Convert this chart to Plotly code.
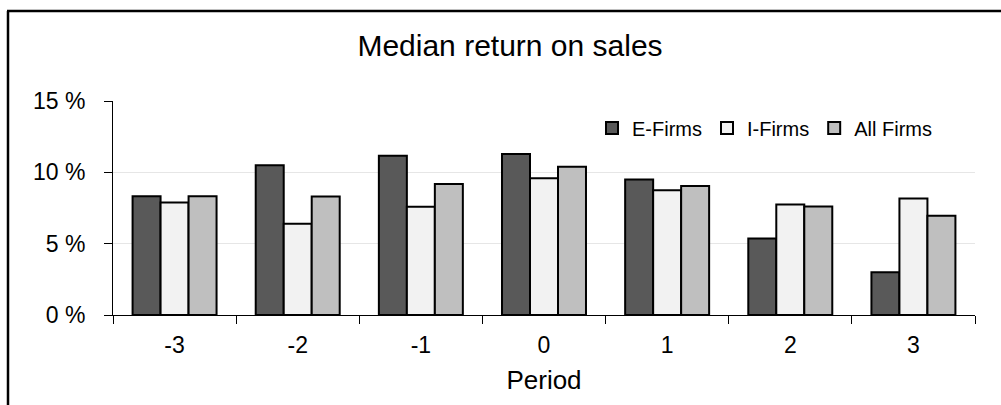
import plotly.graph_objects as go

periods = ["-3", "-2", "-1", "0", "1", "2", "3"]
e_firms = [8.33, 10.5, 11.16, 11.28, 9.5, 5.36, 3.0]
i_firms = [7.89, 6.39, 7.58, 9.59, 8.75, 7.75, 8.17]
all_firms = [8.33, 8.31, 9.19, 10.39, 9.05, 7.6, 6.95]

series = [
    ("E-Firms", e_firms, "#595959"),
    ("I-Firms", i_firms, "#f2f2f2"),
    ("All Firms", all_firms, "#bfbfbf"),
]

FONT = "Liberation Sans, Arial, sans-serif"

fig = go.Figure()
for name, vals, col in series:
    fig.add_trace(go.Bar(
        x=periods, y=vals, name=name,
        marker=dict(color=col, line=dict(color="black", width=2)),
    ))

W, H = 1001, 405
L, R, T, B = 113, 26, 101, 90
pw, ph = W - L - R, H - T - B


def px2paper_x(px):
    return (px - L) / pw


def px2paper_y(py):
    return (H - B - py) / ph


fig.update_layout(
    width=W, height=H,
    margin=dict(l=L, r=R, t=T, b=B, pad=0),
    paper_bgcolor="white", plot_bgcolor="white",
    font=dict(family=FONT, color="black", size=21),
    barmode="group", bargap=0.318, bargroupgap=0,
    title=dict(text="Median return on sales", x=510 / W, xref="container", xanchor="center",
               y=1 - 45 / H, yref="container", yanchor="middle",
               font=dict(size=30, family=FONT, color="black")),
    showlegend=True,
    legend=dict(orientation="h", x=px2paper_x(592), y=px2paper_y(128), xanchor="left", yanchor="middle",
                font=dict(size=20, family=FONT, color="black"), bgcolor="rgba(0,0,0,0)",
                itemwidth=30, traceorder="normal"),
    xaxis=dict(type="category", tickson="boundaries", ticks="outside", ticklen=8, tickcolor="black",
               showline=True, linecolor="black", linewidth=1, showgrid=False,
               tickfont=dict(size=23), ticklabelstandoff=9,
               title=dict(text="Period", font=dict(size=26), standoff=14)),
    yaxis=dict(range=[0, 15], tickvals=[0, 5, 10, 15], ticktext=["0 %", "5 %", "10 %", "15 %"],
               ticks="outside", ticklen=8, tickcolor="black",
               showline=True, linecolor="black", linewidth=1,
               showgrid=True, gridcolor="#e6e6e6", gridwidth=1, zeroline=False,
               tickfont=dict(size=23), ticklabelstandoff=14),
    shapes=[
        dict(type="line", xref="paper", yref="paper",
             x0=px2paper_x(8), x1=px2paper_x(8), y0=px2paper_y(430), y1=px2paper_y(11),
             line=dict(color="black", width=2.5), layer="above"),
        dict(type="line", xref="paper", yref="paper",
             x0=px2paper_x(7), x1=px2paper_x(1020), y0=px2paper_y(11), y1=px2paper_y(11),
             line=dict(color="black", width=2.5), layer="above"),
    ],
)

fig.write_html("out.html")
